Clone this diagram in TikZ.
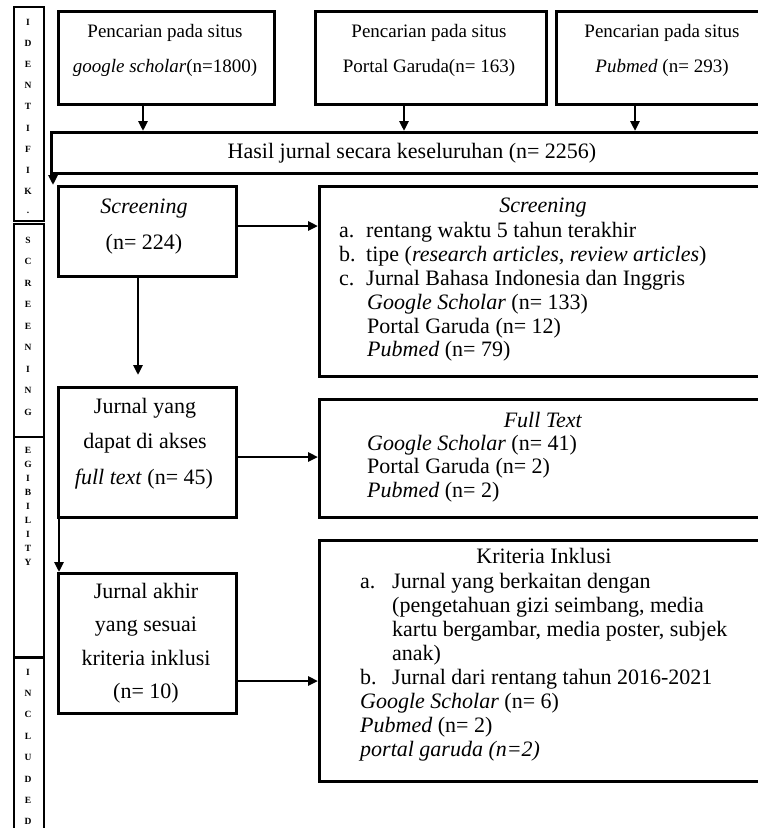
\documentclass[tikz,border=0pt]{standalone}
\usepackage{fontspec}
\setmainfont{Liberation Serif}
\usetikzlibrary{arrows.meta}
\begin{document}
\begin{tikzpicture}[x=1pt,y=-1pt,
  box/.style={draw, line width=3pt, anchor=north west, inner sep=0pt},
  side/.style={draw, line width=1.6pt, anchor=north west, inner sep=0pt, minimum width=30pt},
  txt/.style={font=\fontsize{22}{24}\selectfont, inner sep=0pt, text height=14pt, text depth=4pt},
  top/.style={font=\fontsize{19}{23}\selectfont, inner sep=0pt, text height=13pt, text depth=4pt},
  ltr/.style={font=\bfseries\fontsize{9.5}{10}\selectfont, inner sep=0pt},
  arr/.style={line width=2.6pt, -{Triangle[length=10pt,width=9pt]}}]
\useasboundingbox (0,0) rectangle (758,828);
\clip (0,0) rectangle (758,828);
% side strip
\node[side, minimum height=214pt] (sid) at (13,6) {};
\node[side, minimum height=213pt] (ssc) at (13,223) {};
\node[side, minimum height=220pt] (sel) at (13,436) {};
\node[side, minimum height=200pt] (sin) at (13,657) {};
\foreach \ch [count=\i] in {I,D,E,N,T,I,F,I,K,.}
  \node[ltr] (lid\i) at (28,{22+(\i-1)*21.2}) {\ch};
\foreach \ch [count=\i] in {S,C,R,E,E,N,I,N,G}
  \node[ltr] (lsc\i) at (28,{240+(\i-1)*21.5}) {\ch};
\foreach \ch [count=\i] in {E,G,I,B,I,L,I,T,Y}
  \node[ltr] (lel\i) at (28,{450+(\i-1)*14}) {\ch};
\foreach \ch [count=\i] in {I,N,C,L,U,D,E,D}
  \node[ltr] (lin\i) at (28,{672+(\i-1)*21.4}) {\ch};
% boxes
\node[box, minimum width=216pt, minimum height=93pt] (g) at (57,10) {};
\node[box, minimum width=231pt, minimum height=93pt] (p) at (314,10) {};
\node[box, minimum width=230pt, minimum height=93pt] (m) at (555,10) {};
\node[box, minimum width=740pt, minimum height=41pt] (h) at (50,131) {};
\node[box, minimum width=178pt, minimum height=90pt] (s) at (57,185) {};
\node[box, minimum width=470pt, minimum height=190pt] (sr) at (318,185) {};
\node[box, minimum width=178pt, minimum height=130pt] (f) at (57,386) {};
\node[box, minimum width=470pt, minimum height=118pt] (fr) at (318,398) {};
\node[box, minimum width=178pt, minimum height=140pt] (k) at (57,572) {};
\node[box, minimum width=470pt, minimum height=241pt] (kr) at (318,539) {};
% texts top
\node[top] (g1) at (165,33) {Pencarian pada situs};
\node[top] (g2) at (165,68) {\textit{google scholar}(n=1800)};
\node[top] (p1) at (429,33) {Pencarian pada situs};
\node[top] (p2) at (429,68) {Portal Garuda(n= 163)};
\node[top] (m1) at (662,33) {Pencarian pada situs};
\node[top] (m2) at (662,68) {\textit{Pubmed} (n= 293)};
\node[txt] (h1) at (412,153) {Hasil jurnal secara keseluruhan (n= 2256)};
% left column
\node[txt] (s1) at (144,208) {\textit{Screening}};
\node[txt] (s2) at (144,244) {(n= 224)};
\node[txt] (f1) at (145,408) {Jurnal yang};
\node[txt] (f2) at (145,443) {dapat di akses};
\node[txt] (f3) at (144,479) {\textit{full text} (n= 45)};
\node[txt] (k1) at (146,593) {Jurnal akhir};
\node[txt] (k2) at (146,626) {yang sesuai};
\node[txt] (k3) at (146,660) {kriteria inklusi};
\node[txt] (k4) at (146,693) {(n= 10)};
% screening right
\node[txt] (sr0) at (543,207) {\textit{Screening}};
\node[txt, anchor=west] (sra) at (339,232) {a.};
\node[txt, anchor=west] (sra2) at (366,232) {rentang waktu 5 tahun terakhir};
\node[txt, anchor=west] (srb) at (339,256) {b.};
\node[txt, anchor=west] (srb2) at (366,256) {tipe (\textit{research articles, review articles})};
\node[txt, anchor=west] (src) at (339,280) {c.};
\node[txt, anchor=west] (src2) at (366,280) {Jurnal Bahasa Indonesia dan Inggris};
\node[txt, anchor=west] (sr4) at (367,304) {\textit{Google Scholar} (n= 133)};
\node[txt, anchor=west] (sr5) at (367,328) {Portal Garuda (n= 12)};
\node[txt, anchor=west] (sr6) at (367,351) {\textit{Pubmed} (n= 79)};
% full text right
\node[txt] (fr0) at (543,422) {\textit{Full Text}};
\node[txt, anchor=west] (fr1) at (367,445) {\textit{Google Scholar} (n= 41)};
\node[txt, anchor=west] (fr2) at (367,468) {Portal Garuda (n= 2)};
\node[txt, anchor=west] (fr3) at (367,492) {\textit{Pubmed} (n= 2)};
% kriteria right
\node[txt] (kr0) at (544,558) {Kriteria Inklusi};
\node[txt, anchor=west] (kra) at (360,583) {a.};
\node[txt, anchor=west] (kra1) at (392,583) {Jurnal yang berkaitan dengan};
\node[txt, anchor=west] (kra2) at (392,607) {(pengetahuan gizi seimbang, media};
\node[txt, anchor=west] (kra3) at (392,631) {kartu bergambar, media poster, subjek};
\node[txt, anchor=west] (kra4) at (392,655) {anak)};
\node[txt, anchor=west] (krb) at (360,679) {b.};
\node[txt, anchor=west] (krb1) at (392,679) {Jurnal dari rentang tahun 2016-2021};
\node[txt, anchor=west] (kr5) at (360,703) {\textit{Google Scholar} (n= 6)};
\node[txt, anchor=west] (kr6) at (360,727) {\textit{Pubmed} (n= 2)};
\node[txt, anchor=west] (kr7) at (360,751) {\textit{portal garuda (n=2)}};
% connector x/y references
\coordinate (xa) at (143,0);
\coordinate (xb) at (404,0);
\coordinate (xc) at (635,0);
\coordinate (xd) at (53,0);
\coordinate (xe) at (138,0);
\coordinate (xf) at (59,0);
\coordinate (ya) at (0,226);
\coordinate (yb) at (0,457);
\coordinate (yc) at (0,681);
% arrows
\draw[arr] (g.south -| xa) -- (h.north -| xa);
\draw[arr] (p.south -| xb) -- (h.north -| xb);
\draw[arr] (m.south -| xc) -- (h.north -| xc);
\draw[arr] (h.south -| xd) -- (s.north -| xd);
\draw[arr] (s.east |- ya) -- (sr.west |- ya);
\draw[arr, shorten >=11pt] (s.south -| xe) -- (f.north -| xe);
\draw[arr] (f.east |- yb) -- (fr.west |- yb);
\draw[arr] (f.south -| xf) -- (k.north -| xf);
\draw[arr] (k.east |- yc) -- (kr.west |- yc);
\end{tikzpicture}
\end{document}
